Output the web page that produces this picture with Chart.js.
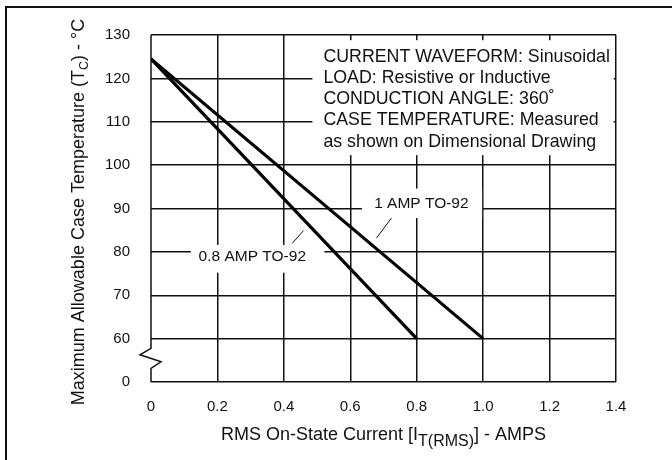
<!DOCTYPE html>
<html>
<head>
<meta charset="utf-8">
<script src="https://cdn.jsdelivr.net/npm/chart.js@4"></script>
<style>
  html, body { margin: 0; padding: 0; background: #fff; }
  canvas { display: block; }
</style>
</head>
<body>
<canvas id="chart" width="672" height="460"></canvas>
<script>
// ---- data ----
const current08 = [0, 0.8];          // 0.8 AMP TO-92, amps
const temp08    = [124.5, 60];       // deg C
const current10 = [0, 1.0];          // 1 AMP TO-92, amps
const temp10    = [124.5, 60];       // deg C

const xTicks = [0, 0.2, 0.4, 0.6, 0.8, 1.0, 1.2, 1.4];
const yTicks = [0, 60, 70, 80, 90, 100, 110, 120, 130]; // 0 sits one step below 60 (broken axis)

const infoLines = [
  'CURRENT WAVEFORM: Sinusoidal',
  'LOAD: Resistive or Inductive',
  'CONDUCTION ANGLE: 360\u02DA',
  'CASE TEMPERATURE: Measured',
  'as shown on Dimensional Drawing'
];

const FONT = '"Liberation Sans", Arial, Helvetica, sans-serif';
const BREAK_VALUE = 50; // axis value where the "0" label is drawn

function toPoints(xs, ys) {
  return xs.map((x, i) => ({ x: x, y: ys[i] }));
}

// frame, broken y axis, titles, notes
const decorPlugin = {
  id: 'decor',
  beforeDatasetsDraw(chart) {
    const { ctx, chartArea: a, scales: { x, y } } = chart;
    ctx.save();

    // white note boxes over the grid
    ctx.fillStyle = '#fff';
    const bx0 = x.getPixelForValue(0.486), bx1 = x.getPixelForValue(1.393);
    const by0 = y.getPixelForValue(128.8), by1 = y.getPixelForValue(102.3);
    ctx.fillRect(bx0, by0, bx1 - bx0, by1 - by0);

    const l1 = [x.getPixelForValue(0.635), y.getPixelForValue(94.6)];
    const l2 = [x.getPixelForValue(1.0) - 1, y.getPixelForValue(87.8)];
    ctx.fillRect(l1[0], l1[1], l2[0] - l1[0], l2[1] - l1[1]);

    const m1 = [x.getPixelForValue(0.12), y.getPixelForValue(81.6)];
    const m2 = [x.getPixelForValue(0.522), y.getPixelForValue(75.2)];
    ctx.fillRect(m1[0], m1[1], m2[0] - m1[0], m2[1] - m1[1]);

    // left axis with break
    ctx.strokeStyle = '#111';
    ctx.lineWidth = 1.5;
    const mid = (y.getPixelForValue(60) + y.getPixelForValue(BREAK_VALUE)) / 2 - 2;
    ctx.beginPath();
    ctx.moveTo(a.left, a.top);
    ctx.lineTo(a.left, mid - 10);
    ctx.lineTo(a.left - 11, mid - 3.5);
    ctx.lineTo(a.left + 10, mid + 3.5);
    ctx.lineTo(a.left, mid + 10);
    ctx.lineTo(a.left, a.bottom);
    ctx.stroke();

    // note text
    ctx.fillStyle = '#111';
    ctx.font = '17.8px ' + FONT;
    ctx.textBaseline = 'middle';
    ctx.textAlign = 'left';
    const tx = x.getPixelForValue(0.519);
    const ty = y.getPixelForValue(124.95);
    infoLines.forEach((t, i) => ctx.fillText(t, tx, ty + i * 21.2));

    // curve labels
    ctx.font = '15.5px ' + FONT;
    ctx.textAlign = 'center';
    ctx.fillText('1 AMP TO-92', x.getPixelForValue(0.814), y.getPixelForValue(91.2));
    ctx.fillText('0.8 AMP TO-92', x.getPixelForValue(0.305), y.getPixelForValue(78.8));

    ctx.lineWidth = 1;
    ctx.beginPath();
    ctx.moveTo(x.getPixelForValue(0.724), y.getPixelForValue(87.8));
    ctx.lineTo(x.getPixelForValue(0.679), y.getPixelForValue(83.2));
    ctx.moveTo(x.getPixelForValue(0.459), y.getPixelForValue(84.9));
    ctx.lineTo(x.getPixelForValue(0.425), y.getPixelForValue(81.95));
    ctx.stroke();

    ctx.restore();
  },
  afterDraw(chart) {
    const { ctx, chartArea: a } = chart;
    ctx.save();

    // outer frame (left + top only)
    ctx.strokeStyle = '#111';
    ctx.lineWidth = 2;
    ctx.beginPath();
    ctx.moveTo(6, 460);
    ctx.lineTo(6, 7);
    ctx.lineTo(672, 7);
    ctx.stroke();

    ctx.fillStyle = '#111';
    ctx.textBaseline = 'alphabetic';

    // x title with subscript
    const big = '18px ' + FONT, sub = '16px ' + FONT;
    const xParts = [
      ['RMS On-State Current [I', big, 0],
      ['T(RMS)', sub, 6],
      ['] - AMPS', big, 0]
    ];
    let w = 0;
    xParts.forEach(p => { ctx.font = p[1]; w += ctx.measureText(p[0]).width; });
    let cx = (a.left + a.right) / 2 - w / 2;
    const baseX = 440;
    xParts.forEach(p => {
      ctx.font = p[1];
      ctx.fillText(p[0], cx, baseX + p[2]);
      cx += ctx.measureText(p[0]).width;
    });

    // y title, rotated
    const yParts = [
      ['Maximum Allowable Case Temperature (T', big, 0],
      ['C', '12.5px ' + FONT, 4],
      [') - \u00B0C', big, 0]
    ];
    w = 0;
    yParts.forEach(p => { ctx.font = p[1]; w += ctx.measureText(p[0]).width; });
    ctx.translate(84, 212);
    ctx.rotate(-Math.PI / 2);
    cx = -w / 2;
    yParts.forEach(p => {
      ctx.font = p[1];
      ctx.fillText(p[0], cx, p[2]);
      cx += ctx.measureText(p[0]).width;
    });

    ctx.restore();
  }
};

new Chart(document.getElementById('chart'), {
  type: 'scatter',
  data: {
    datasets: [
      {
        label: '0.8 AMP TO-92',
        data: toPoints(current08, temp08),
        showLine: true,
        borderColor: '#000',
        borderWidth: 3.2,
        pointRadius: 0
      },
      {
        label: '1 AMP TO-92',
        data: toPoints(current10, temp10),
        showLine: true,
        borderColor: '#000',
        borderWidth: 3.2,
        pointRadius: 0
      }
    ]
  },
  options: {
    responsive: false,
    animation: false,
    layout: { padding: { left: 0, right: 56, top: 35, bottom: 0 } },
    plugins: {
      legend: { display: false },
      tooltip: { enabled: false }
    },
    scales: {
      x: {
        type: 'linear',
        min: xTicks[0],
        max: xTicks[xTicks.length - 1],
        afterFit: s => { s.height = 78; },
        afterBuildTicks: s => { s.ticks = xTicks.map(v => ({ value: v })); },
        border: { display: false },
        grid: {
          drawTicks: false,
          lineWidth: 1.5,
          color: c => c.tick && c.tick.value === 0 ? 'rgba(0,0,0,0)' : '#111'
        },
        ticks: {
          padding: 16,
          color: '#111',
          font: { family: FONT, size: 15 },
          callback: v => v === 0 ? '0' : v.toFixed(1)
        }
      },
      y: {
        type: 'linear',
        min: BREAK_VALUE,
        max: yTicks[yTicks.length - 1],
        afterFit: s => { s.width = 151; },
        afterBuildTicks: s => {
          s.ticks = yTicks.map(v => ({ value: v === 0 ? BREAK_VALUE : v }));
        },
        border: { display: false },
        grid: { drawTicks: false, lineWidth: 1.5, color: '#111' },
        ticks: {
          padding: 21,
          color: '#111',
          font: { family: FONT, size: 15 },
          callback: v => v === BREAK_VALUE ? '0' : String(v)
        }
      }
    }
  },
  plugins: [decorPlugin]
});
</script>
</body>
</html>
